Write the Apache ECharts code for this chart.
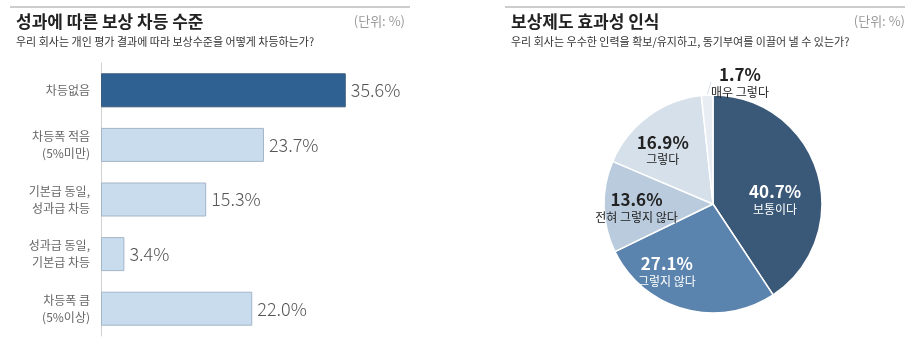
<!DOCTYPE html>
<html><head><meta charset="utf-8">
<script src="https://cdn.jsdelivr.net/npm/echarts@6/dist/echarts.min.js"></script>
<style>html,body{margin:0;padding:0;background:#fff}#c{width:915px;height:346px}</style>
</head><body><div id="c"></div>
<script>
const barCategories = ['차등없음', '차등폭 적음\n(5%미만)', '기본급 동일,\n성과급 차등', '성과급 동일,\n기본급 차등', '차등폭 큼\n(5%이상)'];
const barValues = [35.6, 23.7, 15.3, 3.4, 22.0];
const pieNames = ['보통이다', '그렇지 않다', '전혀 그렇지 않다', '그렇다', '매우 그렇다'];
const pieValues = [40.7, 27.1, 13.6, 16.9, 1.7];
const leftTitle = '성과에 따른 보상 차등 수준';
const leftSub = '우리 회사는 개인 평가 결과에 따라 보상수준을 어떻게 차등하는가?';
const rightTitle = '보상제도 효과성 인식';
const rightSub = '우리 회사는 우수한 인력을 확보/유지하고, 동기부여를 이끌어 낼 수 있는가?';
const unitText = '(단위: %)';

const FONT = '"Noto Sans CJK KR", "Noto Sans", sans-serif';
const pieColors = ['#3a5877', '#5a83ad', '#bacbde', '#d6e0ea', '#e7edf3'];
const pieLabelColors = ['#fff', '#fff', '#222', '#222', '#222'];
const pieLabelShift = [[7, 12], [-31, 12], [-19, 2], [-16, -8], [0, 0]];

const chart = echarts.init(document.getElementById('c'), null, {renderer: 'canvas'});
chart.setOption({
  animation: false,
  textStyle: {fontFamily: FONT},
  graphic: [
    {type: 'line', shape: {x1: 10, y1: 7, x2: 410, y2: 7}, style: {stroke: '#9a9a9a', lineWidth: 1}},
    {type: 'line', shape: {x1: 505, y1: 7, x2: 905, y2: 7}, style: {stroke: '#9a9a9a', lineWidth: 1}},
    {type: 'text', left: 16, top: 13, style: {text: leftTitle, font: 'bold 17px ' + FONT, fill: '#222'}},
    {type: 'text', left: 16, top: 36, style: {text: leftSub, font: '11px ' + FONT, fill: '#333'}},
    {type: 'text', right: 510, top: 15, style: {text: unitText, font: '13px ' + FONT, fill: '#999'}},
    {type: 'text', left: 511, top: 13, style: {text: rightTitle, font: 'bold 17px ' + FONT, fill: '#222'}},
    {type: 'text', left: 511, top: 36, style: {text: rightSub, font: '11px ' + FONT, fill: '#333'}},
    {type: 'text', right: 10, top: 15, style: {text: unitText, font: '13px ' + FONT, fill: '#999'}}
  ],
  grid: {left: 101, top: 63, width: 275, height: 273, containLabel: false},
  xAxis: {type: 'value', min: 0, max: 40, show: false},
  yAxis: {
    type: 'category', data: barCategories, inverse: true,
    axisLine: {show: true, lineStyle: {color: '#d0d0d0', width: 1}},
    axisTick: {show: false},
    axisLabel: {color: '#666', fontSize: 12, lineHeight: 17, margin: 11, align: 'right', fontFamily: FONT}
  },
  series: [
    {
      type: 'bar', barWidth: 34,
      data: barValues.map((v, i) => ({
        value: v,
        itemStyle: i === 0 ? {color: '#2f6293', borderColor: '#3b5c7d', borderWidth: 1}
                           : {color: '#c9dcee', borderColor: '#a3b6c8', borderWidth: 1}
      })),
      label: {show: true, position: 'right', distance: 5, formatter: p => p.value.toFixed(1) + '%',
              fontSize: 18, color: '#555', fontFamily: FONT, fontWeight: 300}
    },
    {
      type: 'pie', center: [713, 204], radius: [0, 109], startAngle: 90, clockwise: true,
      itemStyle: {borderColor: '#fff', borderWidth: 1.5},
      data: pieValues.map((v, i) => ({
        value: v, name: pieNames[i],
        itemStyle: {color: pieColors[i]},
        label: i === 4 ? {position: 'outside', color: '#222'} : {position: 'inside', color: pieLabelColors[i]},
        labelLine: i === 4 ? {show: true, length: 12, length2: 0, lineStyle: {color: '#d8dfe6', width: 1}} : {show: false}
      })),
      label: {
        show: true, fontFamily: FONT,
        formatter: p => '{v|' + p.value.toFixed(1) + '%}\n{n|' + p.name + '}',
        rich: {
          v: {fontSize: 17, fontWeight: 'bold', lineHeight: 20, fontFamily: FONT},
          n: {fontSize: 12, lineHeight: 15, fontFamily: FONT}
        }
      },
      labelLayout: function (params) {
        const i = params.dataIndex;
        if (i === 4) return {x: 740, y: 82, align: 'center', verticalAlign: 'middle'};
        return {dx: pieLabelShift[i][0], dy: pieLabelShift[i][1]};
      }
    }
  ]
});
</script></body></html>
